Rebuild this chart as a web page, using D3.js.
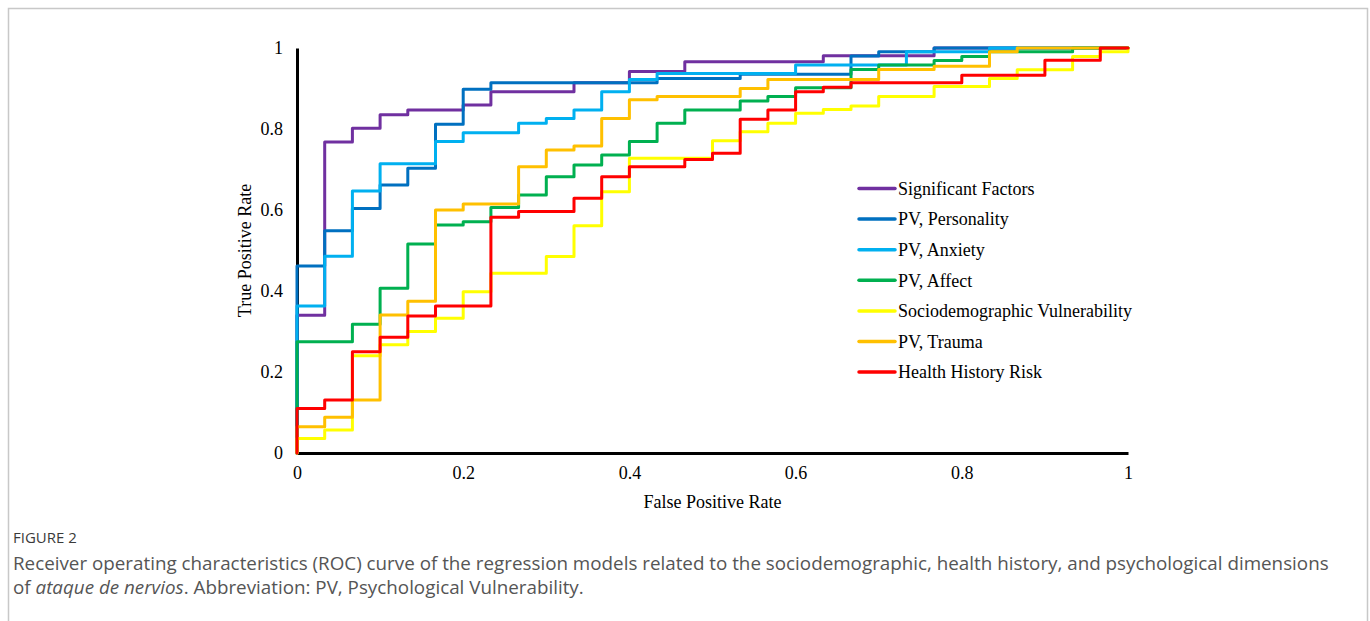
<!DOCTYPE html>
<html>
<head>
<meta charset="utf-8">
<script src="https://cdn.jsdelivr.net/npm/d3@7"></script>
<style>
  body { margin: 0; background: #fff; }
  svg { display: block; }
  .tick text { font-family: "Liberation Serif", "Times New Roman", serif; font-size: 18px; fill: #000; }
  .axis-title, .legend text { font-family: "Liberation Serif", "Times New Roman", serif; font-size: 18px; fill: #000; }
  .caption { font-family: "Open Sans", Lato, sans-serif; fill: #555; }
</style>
</head>
<body>
<div id="chart"></div>
<script>
// number of negatives -> false positive steps of 1/30
const negatives = 30;

// each series: [false positives counted, true positive rate reached]
const significantFactors = [[0, 0.34], [1, 0.768], [2, 0.802], [3, 0.835], [4, 0.847], [6, 0.859], [7, 0.892], [10, 0.914], [12, 0.942], [14, 0.966], [19, 0.981], [23, 1.0]];
const pvPersonality = [[0, 0.462], [1, 0.549], [2, 0.604], [3, 0.662], [4, 0.703], [5, 0.812], [6, 0.898], [7, 0.914], [13, 0.925], [16, 0.935], [20, 0.980], [21, 0.991], [23, 1.0]];
const pvAnxiety = [[0, 0.363], [1, 0.486], [2, 0.647], [3, 0.714], [5, 0.769], [6, 0.791], [8, 0.814], [9, 0.826], [10, 0.847], [11, 0.892], [12, 0.922], [13, 0.937], [18, 0.958], [22, 0.991], [25, 1.0]];
const pvAffect = [[0, 0.275], [2, 0.318], [3, 0.407], [4, 0.516], [5, 0.563], [6, 0.571], [7, 0.606], [8, 0.637], [9, 0.682], [10, 0.711], [11, 0.736], [12, 0.769], [13, 0.814], [14, 0.847], [16, 0.869], [17, 0.880], [18, 0.902], [20, 0.947], [21, 0.958], [23, 0.969], [24, 0.979], [25, 0.991], [28, 1.0]];
const sociodemographic = [[0, 0.036], [1, 0.057], [2, 0.24], [3, 0.267], [4, 0.300], [5, 0.333], [6, 0.398], [7, 0.444], [9, 0.485], [10, 0.561], [11, 0.645], [12, 0.728], [15, 0.771], [16, 0.793], [17, 0.814], [18, 0.839], [19, 0.848], [20, 0.857], [21, 0.880], [23, 0.905], [25, 0.925], [26, 0.946], [28, 0.979], [29, 0.991], [30, 1.0]];
const pvTrauma = [[0, 0.065], [1, 0.088], [2, 0.131], [3, 0.341], [4, 0.375], [5, 0.600], [6, 0.615], [8, 0.707], [9, 0.748], [10, 0.758], [11, 0.826], [12, 0.872], [13, 0.880], [16, 0.900], [17, 0.922], [21, 0.947], [23, 0.955], [25, 0.991], [26, 1.0]];
const healthHistory = [[0, 0.110], [1, 0.131], [2, 0.250], [3, 0.286], [4, 0.338], [5, 0.363], [7, 0.582], [8, 0.596], [10, 0.629], [11, 0.682], [12, 0.707], [14, 0.725], [15, 0.740], [16, 0.824], [17, 0.847], [18, 0.892], [19, 0.903], [20, 0.914], [24, 0.933], [27, 0.970], [29, 1.0]];

const seriesNames = ['Significant Factors', 'PV, Personality', 'PV, Anxiety', 'PV, Affect', 'Sociodemographic Vulnerability', 'PV, Trauma', 'Health History Risk'];
const seriesData = [significantFactors, pvPersonality, pvAnxiety, pvAffect, sociodemographic, pvTrauma, healthHistory];
const seriesColors = ['#7030A0', '#0070C0', '#00B0F0', '#00B050', '#FFFF00', '#FFC000', '#FF0000'];
const axisTicks = [0, 0.2, 0.4, 0.6, 0.8, 1];

const width = 1370;
const height = 621;

const x = d3.scaleLinear().domain([0, 1]).range([297, 1128]);
const y = d3.scaleLinear().domain([0, 1]).range([453, 48]);

const svg = d3.select('#chart')
  .append('svg')
  .attr('width', width)
  .attr('height', height);

// figure frame
svg.append('path')
  .attr('d', 'M8.5,' + height + 'V8.5H1367.5V' + height)
  .attr('fill', 'none')
  .attr('stroke', '#c8c8c8')
  .attr('stroke-width', 1.5);

// axes
const xAxis = svg.append('g')
  .attr('transform', 'translate(0,' + y(0) + ')')
  .call(d3.axisBottom(x).tickValues(axisTicks).tickSize(0).tickPadding(13).tickFormat(d3.format('')));
const yAxis = svg.append('g')
  .attr('transform', 'translate(' + x(0) + ',0)')
  .call(d3.axisLeft(y).tickValues(axisTicks).tickSize(0).tickPadding(14).tickFormat(d3.format('')));
[xAxis, yAxis].forEach(function(a) {
  a.select('.domain').attr('stroke', '#000').attr('stroke-width', 3);
});

svg.append('text')
  .attr('class', 'axis-title')
  .attr('x', x(0.5))
  .attr('y', 508)
  .attr('text-anchor', 'middle')
  .text('False Positive Rate');

svg.append('text')
  .attr('class', 'axis-title')
  .attr('transform', 'translate(251,' + y(0.5) + ') rotate(-90)')
  .attr('text-anchor', 'middle')
  .text('True Positive Rate');

// turn steps into corner points
function cornerPoints(steps) {
  const pts = [[0, 0]];
  steps.forEach(function(s) {
    const fpr = s[0] / negatives;
    const last = pts[pts.length - 1];
    if (fpr !== last[0]) pts.push([fpr, last[1]]);
    pts.push([fpr, s[1]]);
  });
  const last = pts[pts.length - 1];
  if (last[0] < 1) pts.push([1, last[1]]);
  if (pts[pts.length - 1][1] < 1) pts.push([1, 1]);
  return pts;
}

const line = d3.line()
  .x(function(d) { return x(d[0]); })
  .y(function(d) { return y(d[1]); });

svg.append('g')
  .selectAll('path')
  .data(seriesData)
  .enter().append('path')
  .attr('d', function(d) { return line(cornerPoints(d)); })
  .attr('fill', 'none')
  .attr('stroke', function(d, i) { return seriesColors[i]; })
  .attr('stroke-width', 3)
  .attr('stroke-linejoin', 'round')
  .attr('stroke-linecap', 'round');

// legend
const legend = svg.append('g')
  .attr('class', 'legend')
  .selectAll('g')
  .data(seriesNames)
  .enter().append('g')
  .attr('transform', function(d, i) { return 'translate(859,' + (188.5 + i * 30.6) + ')'; });
legend.append('line')
  .attr('x1', 0).attr('x2', 36)
  .attr('stroke', function(d, i) { return seriesColors[i]; })
  .attr('stroke-width', 3.5)
  .attr('stroke-linecap', 'round');
legend.append('text')
  .attr('x', 39)
  .attr('dy', '0.35em')
  .text(function(d) { return d; });

// caption
svg.append('text')
  .attr('class', 'caption')
  .attr('x', 13)
  .attr('y', 543)
  .style('font-size', '15px')
  .style('fill', '#3a3a3a')
  .text('FIGURE 2');

const cap1 = svg.append('text')
  .attr('class', 'caption')
  .attr('x', 13)
  .attr('y', 570)
  .style('font-size', '17px')
  .text('Receiver operating characteristics (ROC) curve of the regression models related to the sociodemographic, health history, and psychological dimensions');

// fit the caption to the width of the reference line
const capSize = 17 * 1317 / cap1.node().getComputedTextLength();
cap1.style('font-size', capSize + 'px');

const cap2 = svg.append('text')
  .attr('class', 'caption')
  .attr('x', 13)
  .attr('y', 594)
  .style('font-size', capSize + 'px');
cap2.append('tspan').text('of ');
cap2.append('tspan').style('font-style', 'italic').text('ataque de nervios');
cap2.append('tspan').text('. Abbreviation: PV, Psychological Vulnerability.');
</script>
</body>
</html>
